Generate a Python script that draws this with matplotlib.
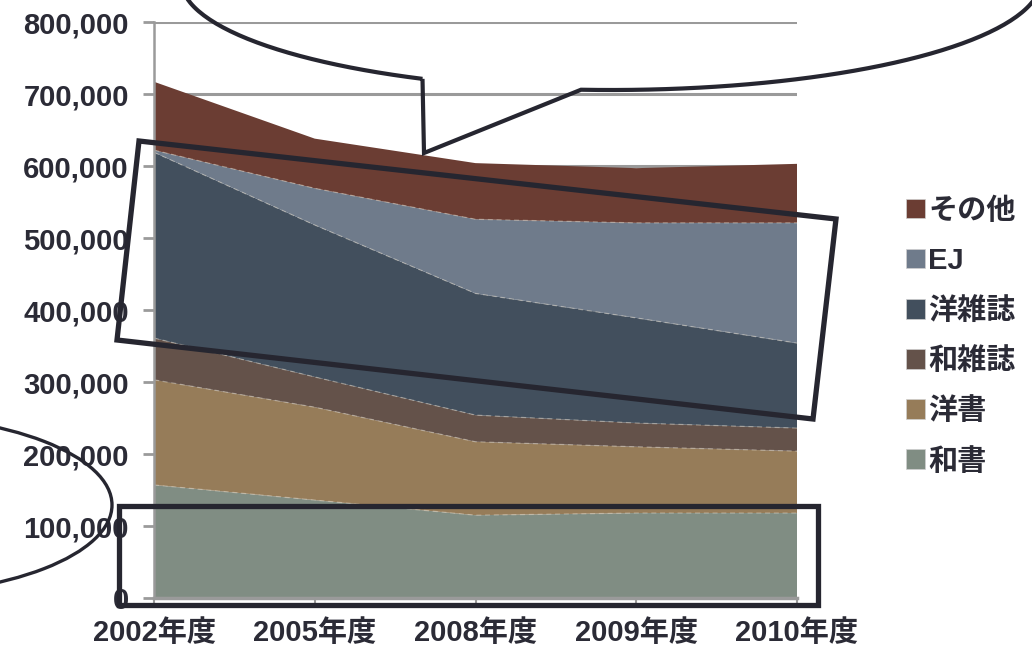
import numpy as np
import matplotlib
matplotlib.use("Agg")
import matplotlib.pyplot as plt
from matplotlib.patches import Patch, Polygon, Ellipse, PathPatch
from matplotlib.path import Path
from matplotlib.ticker import FuncFormatter

plt.rcParams['font.family'] = ['Liberation Sans', 'Noto Sans CJK JP', 'DejaVu Sans']

# holdings by fiscal year
years = ["2002年度", "2005年度", "2008年度", "2009年度", "2010年度"]
washo = [157000, 136000, 115000, 118000, 118000]      # 和書
yosho = [146000, 129000, 102000, 92000, 86000]        # 洋書
wazasshi = [58000, 42000, 37000, 33000, 32000]        # 和雑誌
yozasshi = [258000, 211000, 169000, 146000, 118000]   # 洋雑誌
ej = [3000, 51000, 103000, 132000, 167000]            # EJ
sonota = [95000, 69000, 78000, 76000, 82000]          # その他

labels = ["和書", "洋書", "和雑誌", "洋雑誌", "EJ", "その他"]
colors = ["#808d83", "#967c59", "#64524a", "#424f5d", "#6f7b8b", "#6b3d33"]

W, H = 1032, 649
fig = plt.figure(figsize=(W / 100, H / 100), dpi=100)
ax = fig.add_axes([154 / W, 51 / H, (797 - 154) / W, (598 - 22) / H])

x = np.arange(len(years))
series = [washo, yosho, wazasshi, yozasshi, ej, sonota]
ax.stackplot(x, *series, colors=colors, linewidth=0, zorder=2)

# faint seams between the stacked layers
tops = np.cumsum(np.array(series, dtype=float), axis=0)
for t in tops[:-1]:
    ax.plot(x, t, color="#ddd5c6", lw=0.9, ls=(0, (4, 3)), alpha=0.45, zorder=3)

ax.set_xlim(0, len(years) - 1)
ax.set_ylim(0, 800000)
ax.set_yticks(np.arange(0, 800001, 100000))
ax.yaxis.set_major_formatter(FuncFormatter(lambda v, p: f"{int(v):,}"))
ax.set_xticks(x)
ax.set_xticklabels(years)

grey = "#9a9a9a"
ax.grid(axis="y", color=grey, lw=2.2, zorder=1)
ax.set_axisbelow(True)
for s in ["top", "right"]:
    ax.spines[s].set_visible(False)
ax.spines["left"].set_color(grey)
ax.spines["left"].set_linewidth(1.8)
ax.spines["bottom"].set_color(grey)
ax.spines["bottom"].set_linewidth(2.5)
ax.spines["left"].set_zorder(4)
ax.spines["bottom"].set_zorder(4)

txt = "#2b2b36"
ax.tick_params(axis="y", length=8, width=2, color=grey, pad=10,
               labelsize=21, labelcolor=txt)
ax.tick_params(axis="x", length=5, width=1.5, color=grey, pad=10,
               labelsize=21, labelcolor=txt)
for lab in ax.get_yticklabels() + ax.get_xticklabels():
    lab.set_fontweight("bold")

handles = [Patch(facecolor=c, edgecolor="#d0d0d0", lw=0.5) for c in colors]
leg = fig.legend(handles[::-1], labels[::-1], loc="upper left",
                 bbox_to_anchor=(894 / W, 1 - 185 / H), frameon=False,
                 prop={"size": 21, "weight": "bold"},
                 handlelength=0.66, handleheight=0.66, handletextpad=0.12,
                 labelspacing=0.76, borderaxespad=0)
for t in leg.get_texts():
    t.set_color(txt)

# hand-drawn callout shapes on top of the chart
ov = fig.add_axes([0, 0, 1, 1], zorder=10)
ov.set_xlim(0, W)
ov.set_ylim(H, 0)
ov.axis("off")
ink = "#262630"

# speech bubble: ellipse with a tail pointing down into the plot
cx, cy, rx, ry = 611, -20, 430, 110
t = np.radians(np.linspace(116, 360 + 94, 300))
pts = np.column_stack([cx + rx * np.cos(t), cy + ry * np.sin(t)])
pts = np.vstack([pts, [[424, 153]], pts[:1]])
ov.add_patch(PathPatch(Path(pts), fill=False, ec=ink, lw=3.0, joinstyle="miter"))

# tilted frame around the journal layers
ov.add_patch(Polygon([[139, 141], [836, 219], [813, 419], [117, 340]],
                     closed=True, fill=False, ec=ink, lw=3.8, joinstyle="miter"))

# frame around the bottom layer
ov.add_patch(Polygon([[119, 506], [818, 506], [818, 605], [119, 605]],
                     closed=True, fill=False, ec=ink, lw=3.8, joinstyle="miter"))

# partial ellipse at the left edge
ov.add_patch(Ellipse((-120, 505), 2 * 232, 2 * 90, fill=False, ec=ink, lw=2.4))

fig.savefig("out.png", dpi=100)
